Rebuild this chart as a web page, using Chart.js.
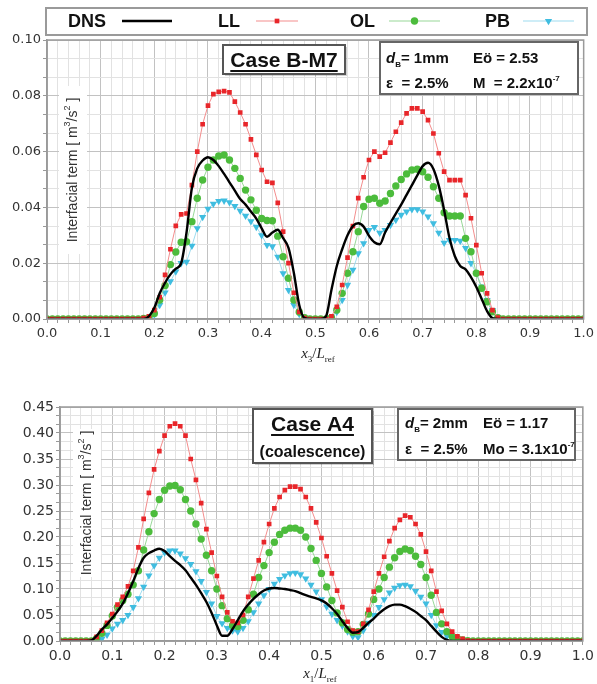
<!DOCTYPE html>
<html>
<head>
<meta charset="utf-8">
<script src="https://cdn.jsdelivr.net/npm/chart.js@4/dist/chart.umd.min.js"></script>
<style>
  body { margin: 0; background: #fff; }
  #page { position: relative; width: 597px; height: 684px; }
  canvas { position: absolute; left: 0; }
</style>
</head>
<body>
<div id="page">
  <canvas id="caseM7Plot" width="597" height="365" style="top:0"></canvas>
  <canvas id="caseA4Plot" width="597" height="319" style="top:365px"></canvas>
</div>
<script>
// Sampling positions along the column (x/Lref), every 0.01
var positions = [];
for (var i = 0; i <= 100; i++) positions.push(i / 100);

// Case B-M7 : interfacial term along x3/Lref
var dnsM7 = [
    0, 0, 0, 0, 0, 0, 0, 0, 0, 0,
    0, 0, 0, 0, 0, 0, 0, 0, 0, 0.001,
    0.004, 0.0092, 0.013, 0.016, 0.018, 0.020, 0.031, 0.047, 0.054, 0.0568,
    0.058, 0.057, 0.0548, 0.052, 0.049, 0.046, 0.043, 0.041, 0.0385, 0.036,
    0.0325, 0.0295, 0.031, 0.032, 0.029, 0.0255, 0.0165, 0.005, 0.0003, 0,
    0, 0, 0.001, 0.0104, 0.019, 0.025, 0.030, 0.0333, 0.0343, 0.0331,
    0.0298, 0.0275, 0.0268, 0.031, 0.0345, 0.0378, 0.041, 0.0445, 0.048, 0.0515,
    0.0548, 0.056, 0.0538, 0.0478, 0.039, 0.029, 0.0225, 0.019, 0.0178, 0.015,
    0.0115, 0.0072, 0.0028, 0.0003, 0, 0, 0, 0, 0, 0,
    0, 0, 0, 0, 0, 0, 0, 0, 0, 0, 0
];
var llM7 = [
    0, 0, 0, 0, 0, 0, 0, 0, 0, 0,
    0, 0, 0, 0, 0, 0, 0, 0, 0.0003, 0.001,
    0.0032, 0.0078, 0.0158, 0.025, 0.0334, 0.0375, 0.0378, 0.048, 0.060, 0.0698,
    0.0765, 0.0806, 0.0814, 0.0817, 0.0812, 0.0779, 0.074, 0.0698, 0.0644, 0.0588,
    0.0534, 0.0492, 0.0488, 0.0416, 0.0313, 0.020, 0.0094, 0.0025, 0.0003, 0,
    0, 0, 0, 0.001, 0.0044, 0.0122, 0.022, 0.0333, 0.0433, 0.0508,
    0.057, 0.060, 0.0582, 0.0596, 0.0632, 0.0671, 0.0704, 0.0737, 0.0755, 0.0755,
    0.0743, 0.0713, 0.0665, 0.0594, 0.0528, 0.0498, 0.0498, 0.0498, 0.0444, 0.0361,
    0.0265, 0.0164, 0.0092, 0.0032, 0.0005, 0, 0, 0, 0, 0,
    0, 0, 0, 0, 0, 0, 0, 0, 0, 0, 0
];
var olM7 = [
    0, 0, 0, 0, 0, 0, 0, 0, 0, 0,
    0, 0, 0, 0, 0, 0, 0, 0, 0.0002, 0.0005,
    0.002, 0.0068, 0.012, 0.0195, 0.024, 0.0275, 0.0277, 0.0349, 0.0433, 0.0498,
    0.0544, 0.057, 0.0584, 0.0588, 0.057, 0.054, 0.0504, 0.0462, 0.0427, 0.039,
    0.036, 0.0353, 0.0352, 0.0297, 0.0223, 0.0146, 0.0068, 0.0025, 0.0005, 0,
    0, 0, 0, 0.0005, 0.0032, 0.0092, 0.0164, 0.0241, 0.0313, 0.0403,
    0.0429, 0.0433, 0.0415, 0.0423, 0.045, 0.0477, 0.05, 0.052, 0.0534, 0.0537,
    0.0528, 0.0508, 0.0474, 0.0433, 0.0381, 0.0369, 0.0369, 0.0369, 0.0289, 0.0241,
    0.0164, 0.011, 0.0062, 0.0026, 0.0005, 0, 0, 0, 0, 0,
    0, 0, 0, 0, 0, 0, 0, 0, 0, 0, 0
];
var pbM7 = [
    0, 0, 0, 0, 0, 0, 0, 0, 0, 0,
    0, 0, 0, 0, 0, 0, 0, 0, 0, 0.0003,
    0.0015, 0.005, 0.0095, 0.0135, 0.017, 0.020, 0.0205, 0.0262, 0.0325, 0.0365,
    0.0395, 0.0413, 0.0423, 0.0424, 0.0418, 0.0405, 0.0388, 0.037, 0.035, 0.033,
    0.030, 0.0265, 0.026, 0.0223, 0.0164, 0.0104, 0.005, 0.0018, 0.0003, 0,
    0, 0, 0, 0.0005, 0.0025, 0.0068, 0.0122, 0.0176, 0.0235, 0.0271,
    0.0319, 0.0329, 0.0309, 0.0319, 0.0337, 0.0355, 0.0373, 0.0385, 0.0393, 0.0393,
    0.0385, 0.0367, 0.0343, 0.0309, 0.0273, 0.0283, 0.0283, 0.0280, 0.0254, 0.020,
    0.0164, 0.0116, 0.0068, 0.0032, 0.0005, 0, 0, 0, 0, 0,
    0, 0, 0, 0, 0, 0, 0, 0, 0, 0, 0
];

// Case A4 (coalescence) : interfacial term along x1/Lref
var dnsA4 = [
    0, 0, 0, 0, 0, 0, 0.001, 0.01, 0.022, 0.032,
    0.044, 0.057, 0.072, 0.092, 0.115, 0.14, 0.16, 0.169, 0.174, 0.1775,
    0.173, 0.163, 0.154, 0.146, 0.136, 0.122, 0.108, 0.092, 0.075, 0.054,
    0.03, 0.01, 0.01, 0.023, 0.04, 0.057, 0.07, 0.081, 0.09, 0.097,
    0.101, 0.102, 0.101, 0.1, 0.098, 0.096, 0.092, 0.088, 0.085, 0.082,
    0.078, 0.072, 0.063, 0.052, 0.038, 0.025, 0.016, 0.017, 0.025, 0.035,
    0.043, 0.053, 0.061, 0.067, 0.07, 0.07, 0.067, 0.062, 0.056, 0.048,
    0.04, 0.029, 0.018, 0.008, 0.002, 0, 0, 0, 0, 0,
    0, 0, 0, 0, 0, 0, 0, 0, 0, 0,
    0, 0, 0, 0, 0, 0, 0, 0, 0, 0, 0
];
var llA4 = [
    0, 0, 0, 0, 0, 0, 0, 0.008, 0.02, 0.035,
    0.052, 0.07, 0.085, 0.105, 0.135, 0.18, 0.235, 0.285, 0.33, 0.365,
    0.395, 0.413, 0.418, 0.413, 0.395, 0.35, 0.31, 0.265, 0.215, 0.17,
    0.125, 0.085, 0.055, 0.038, 0.035, 0.05, 0.085, 0.12, 0.155, 0.19,
    0.225, 0.255, 0.277, 0.29, 0.297, 0.297, 0.292, 0.277, 0.255, 0.228,
    0.198, 0.163, 0.13, 0.097, 0.065, 0.037, 0.02, 0.018, 0.033, 0.06,
    0.095, 0.13, 0.162, 0.192, 0.217, 0.233, 0.241, 0.238, 0.225, 0.205,
    0.172, 0.135, 0.095, 0.058, 0.033, 0.018, 0.009, 0.004, 0.001, 0,
    0, 0, 0, 0, 0, 0, 0, 0, 0, 0,
    0, 0, 0, 0, 0, 0, 0, 0, 0, 0, 0
];
var olA4 = [
    0, 0, 0, 0, 0, 0, 0, 0.005, 0.015, 0.03,
    0.048, 0.065, 0.078, 0.09, 0.108, 0.135, 0.175, 0.21, 0.245, 0.272,
    0.29, 0.298, 0.299, 0.291, 0.272, 0.25, 0.225, 0.196, 0.165, 0.135,
    0.1, 0.068, 0.043, 0.03, 0.028, 0.04, 0.06, 0.09, 0.122, 0.145,
    0.17, 0.19, 0.205, 0.213, 0.217, 0.217, 0.213, 0.2, 0.178, 0.155,
    0.13, 0.104, 0.078, 0.054, 0.035, 0.022, 0.017, 0.018, 0.032, 0.052,
    0.08, 0.1, 0.122, 0.142, 0.16, 0.172, 0.177, 0.174, 0.163, 0.147,
    0.122, 0.088, 0.055, 0.033, 0.018, 0.009, 0.005, 0.002, 0.0005, 0,
    0, 0, 0, 0, 0, 0, 0, 0, 0, 0,
    0, 0, 0, 0, 0, 0, 0, 0, 0, 0, 0
];
var pbA4 = [
    0, 0, 0, 0, 0, 0, 0, 0, 0.004, 0.012,
    0.024, 0.033, 0.04, 0.05, 0.065, 0.082, 0.104, 0.126, 0.145, 0.16,
    0.17, 0.174, 0.174, 0.168, 0.159, 0.148, 0.134, 0.115, 0.094, 0.072,
    0.048, 0.034, 0.025, 0.02, 0.018, 0.025, 0.038, 0.055, 0.072, 0.088,
    0.1, 0.11, 0.119, 0.126, 0.13, 0.131, 0.128, 0.12, 0.108, 0.095,
    0.08, 0.066, 0.052, 0.04, 0.029, 0.018, 0.009, 0.007, 0.02, 0.035,
    0.05, 0.065, 0.08, 0.093, 0.102, 0.107, 0.108, 0.105, 0.096, 0.085,
    0.072, 0.05, 0.03, 0.017, 0.009, 0.005, 0.002, 0.0005, 0, 0,
    0, 0, 0, 0, 0, 0, 0, 0, 0, 0,
    0, 0, 0, 0, 0, 0, 0, 0, 0, 0, 0
];

var FONT = "'Liberation Sans', Arial, sans-serif";
var WIDE = "'DejaVu Sans', Verdana, sans-serif";
var SERIF = "'Liberation Serif', 'Times New Roman', serif";
Chart.defaults.font.family = WIDE;
Chart.defaults.font.size = 13;
Chart.defaults.color = '#333';

function _datasets(dns, ll, ol, pb)
{
    return [
        { label: 'DNS', data: dns, borderColor: '#000', borderWidth: 2.4, pointRadius: 0,
          cubicInterpolationMode: 'monotone' },
        { label: 'LL', data: ll, borderColor: '#f38d8d', borderWidth: 1, pointStyle: 'rect',
          pointRadius: 3.3, pointBackgroundColor: '#e8262a', pointBorderWidth: 0 },
        { label: 'OL', data: ol, borderColor: '#98d898', borderWidth: 1, pointStyle: 'circle',
          pointRadius: 3.7, pointBackgroundColor: '#4cbc3c', pointBorderWidth: 0 },
        { label: 'PB', data: pb, borderColor: '#9edcef', borderWidth: 1, pointStyle: 'triangle',
          rotation: 180, pointRadius: 4.2, pointBackgroundColor: '#3fbde0', pointBorderWidth: 0 }
    ];
}

// text made of runs (italic letters, sub- and superscripts)
function drawRuns(ctx, x, y, runs)
{
    runs.forEach(function(r) {
        ctx.font = r[1];
        ctx.fillText(r[0], x, y + (r[2] || 0));
        x += ctx.measureText(r[0]).width;
    });
    return x;
}

function runsWidth(ctx, runs)
{
    var w = 0;
    runs.forEach(function(r) { ctx.font = r[1]; w += ctx.measureText(r[0]).width; });
    return w;
}

function framedBox(ctx, x, y, w, h, color, shadow)
{
    ctx.save();
    if (shadow) {
        ctx.fillStyle = 'rgba(0,0,0,0.18)';
        ctx.fillRect(x + 2, y + 2, w, h);
    }
    ctx.fillStyle = '#fff';
    ctx.fillRect(x, y, w, h);
    ctx.strokeStyle = color;
    ctx.lineWidth = 2;
    ctx.strokeRect(x, y, w, h);
    ctx.restore();
}

function yTitle(ctx, cx, cy, boxTop, boxBottom, size)
{
    ctx.save();
    ctx.fillStyle = '#fff';
    ctx.fillRect(cx - 14, boxTop, 28, boxBottom - boxTop);
    ctx.translate(cx, cy);
    ctx.rotate(-Math.PI / 2);
    ctx.fillStyle = '#333';
    ctx.textBaseline = 'middle';
    var f = size + 'px ' + FONT, sup = Math.round(size * 0.62) + 'px ' + FONT;
    var runs = [['Interfacial term [ m', f], ['3', sup, -5], ['/s', f], ['2', sup, -5], [' ]', f]];
    drawRuns(ctx, -runsWidth(ctx, runs) / 2, 0, runs);
    ctx.restore();
}

function xTitle(ctx, cx, y, index)
{
    ctx.save();
    ctx.fillStyle = '#222';
    ctx.textBaseline = 'alphabetic';
    var runs = [['x', 'italic 15px ' + SERIF], [index, '9px ' + SERIF, 4],
                ['/', '15px ' + SERIF], ['L', 'italic 15px ' + SERIF], ['ref', '9px ' + SERIF, 4]];
    drawRuns(ctx, cx - runsWidth(ctx, runs) / 2, y, runs);
    ctx.restore();
}

function caseBox(ctx, x, y, w, h, title, subtitle)
{
    framedBox(ctx, x, y, w, h, '#555', true);
    ctx.save();
    ctx.fillStyle = '#111';
    ctx.textAlign = 'center';
    ctx.textBaseline = 'alphabetic';
    ctx.font = 'bold 21px ' + FONT;
    var cx = x + w / 2;
    var ty = y + 22;
    ctx.fillText(title, cx, ty);
    var tw = ctx.measureText(title).width;
    ctx.fillRect(cx - tw / 2, ty + 3, tw, 2);
    if (subtitle) {
        ctx.font = 'bold 16px ' + FONT;
        ctx.fillText(subtitle, cx, y + 48);
    }
    ctx.restore();
}

function infoBox(ctx, x, y, w, h, lines)
{
    framedBox(ctx, x, y, w, h, '#666', false);
    ctx.save();
    ctx.fillStyle = '#111';
    ctx.textBaseline = 'alphabetic';
    lines.forEach(function(l) { drawRuns(ctx, l.x, l.y, l.runs); });
    ctx.restore();
}

// frame around the plot area
var framePlugin = {
    id: 'frame',
    afterDraw: function(chart) {
        var a = chart.chartArea, ctx = chart.ctx;
        ctx.save();
        ctx.strokeStyle = '#9a9a9a';
        ctx.lineWidth = 1.5;
        ctx.strokeRect(a.left, a.top, a.right - a.left, a.bottom - a.top);
        ctx.restore();
    }
};

function gridColor(majorEvery)
{
    return function(c) { return c.index % majorEvery === 0 ? '#c2c2c2' : '#e2e2e2'; };
}

function xScale(height, fontSize)
{
    return {
        type: 'linear', min: 0, max: 1,
        afterBuildTicks: function(s) {
            var t = [];
            for (var k = 0; k <= 50; k++) t.push({ value: k * 0.02 });
            s.ticks = t;
        },
        afterFit: function(s) { s.height = height; },
        ticks: {
            autoSkip: false, maxRotation: 0, padding: 3, color: '#333', font: { size: fontSize },
            callback: function(v, idx) { return idx % 5 === 0 ? (idx / 50).toFixed(1) : ''; }
        },
        grid: { color: gridColor(5), tickLength: 4, tickColor: '#999', lineWidth: 1 },
        border: { color: '#999', width: 1.5 }
    };
}

function yScale(width, major, count, fontSize)
{
    return {
        min: 0, max: major * count,
        afterBuildTicks: function(s) {
            var t = [];
            for (var k = 0; k <= count * 3; k++) t.push({ value: k * major / 3 });
            s.ticks = t;
        },
        afterFit: function(s) { s.width = width; },
        ticks: {
            autoSkip: false, padding: 2, color: '#333', font: { size: fontSize },
            callback: function(v, idx) { return idx % 3 === 0 ? (idx / 3 * major).toFixed(2) : ''; }
        },
        grid: { color: gridColor(3), tickLength: 4, tickColor: '#999', lineWidth: 1 },
        border: { color: '#999', width: 1.5 }
    };
}

function _baseOptions()
{
    return {
        responsive: false,
        animation: false,
        events: [],
        plugins: { legend: { display: false }, tooltip: { enabled: false } },
        elements: { line: { tension: 0 } }
    };
}

// Case B-M7
var m7Options = _baseOptions();
m7Options.layout = { padding: { left: 0, right: 12, top: 40, bottom: 0 } };
m7Options.scales = { x: xScale(46, 13), y: yScale(47, 0.02, 5, 13) };

new Chart(document.getElementById('caseM7Plot'), {
    type: 'line',
    data: { labels: positions, datasets: _datasets(dnsM7, llM7, olM7, pbM7) },
    options: m7Options,
    plugins: [framePlugin, {
        id: 'm7Decor',
        beforeDatasetsDraw: function(chart) {
            yTitle(chart.ctx, 73, 170, 86, 254, 14);
        },
        afterDraw: function(chart) {
            var ctx = chart.ctx;
            // legend: text first, then the line sample
            framedBox(ctx, 46, 8, 541, 27, '#9a9a9a', false);
            var entries = [
                { name: 'DNS', x: 68, from: 122, to: 172, ds: 0 },
                { name: 'LL', x: 218, from: 256, to: 298, ds: 1 },
                { name: 'OL', x: 350, from: 389, to: 440, ds: 2 },
                { name: 'PB', x: 485, from: 523, to: 574, ds: 3 }
            ];
            ctx.save();
            entries.forEach(function(e) {
                var d = chart.data.datasets[e.ds];
                ctx.fillStyle = '#111';
                ctx.font = 'bold 18px ' + FONT;
                ctx.textBaseline = 'middle';
                ctx.fillText(e.name, e.x, 22);
                ctx.strokeStyle = d.borderColor;
                ctx.lineWidth = e.ds === 0 ? 2.4 : 1.2;
                ctx.beginPath();
                ctx.moveTo(e.from, 21);
                ctx.lineTo(e.to, 21);
                ctx.stroke();
                if (e.ds > 0) {
                    ctx.fillStyle = d.pointBackgroundColor;
                    Chart.helpers.drawPoint(ctx, {
                        pointStyle: d.pointStyle, radius: d.pointRadius,
                        rotation: d.rotation || 0, borderWidth: 0
                    }, (e.from + e.to) / 2, 21);
                }
            });
            ctx.restore();

            caseBox(ctx, 223, 45, 122, 29, 'Case B-M7');
            var big = 'bold 15px ' + FONT, small = 'bold 8px ' + FONT;
            infoBox(ctx, 380, 42, 198, 52, [
                { x: 386, y: 63, runs: [['d', 'italic bold 15px ' + FONT], ['B', small, 4], ['= 1mm', big]] },
                { x: 473, y: 63, runs: [['E\u00f6 = 2.53', big]] },
                { x: 386, y: 88, runs: [['\u03b5  = 2.5%', big]] },
                { x: 473, y: 88, runs: [['M  = 2.2x10', big], ['-7', small, -7]] }
            ]);
            xTitle(ctx, 318, 358, '3');
        }
    }]
});

// Case A4 (coalescence)
var a4Options = _baseOptions();
a4Options.layout = { padding: { left: 0, right: 14, top: 42, bottom: 0 } };
a4Options.scales = { x: xScale(43, 14), y: yScale(60, 0.05, 9, 14) };

new Chart(document.getElementById('caseA4Plot'), {
    type: 'line',
    data: { labels: positions, datasets: _datasets(dnsA4, llA4, olA4, pbA4) },
    options: a4Options,
    plugins: [framePlugin, {
        id: 'a4Decor',
        beforeDatasetsDraw: function(chart) {
            yTitle(chart.ctx, 87, 138, 64, 212, 14);
        },
        afterDraw: function(chart) {
            var ctx = chart.ctx;
            caseBox(ctx, 253, 44, 119, 54, 'Case A4', '(coalescence)');
            var big = 'bold 15px ' + FONT, small = 'bold 8px ' + FONT;
            infoBox(ctx, 398, 44, 177, 51, [
                { x: 405, y: 63, runs: [['d', 'italic bold 15px ' + FONT], ['B', small, 4], ['= 2mm', big]] },
                { x: 483, y: 63, runs: [['E\u00f6 = 1.17', big]] },
                { x: 405, y: 89, runs: [['\u03b5  = 2.5%', big]] },
                { x: 483, y: 89, runs: [['Mo = 3.1x10', big], ['-7', small, -7]] }
            ]);
            xTitle(ctx, 320, 313, '1');
        }
    }]
});
</script>
</body>
</html>
